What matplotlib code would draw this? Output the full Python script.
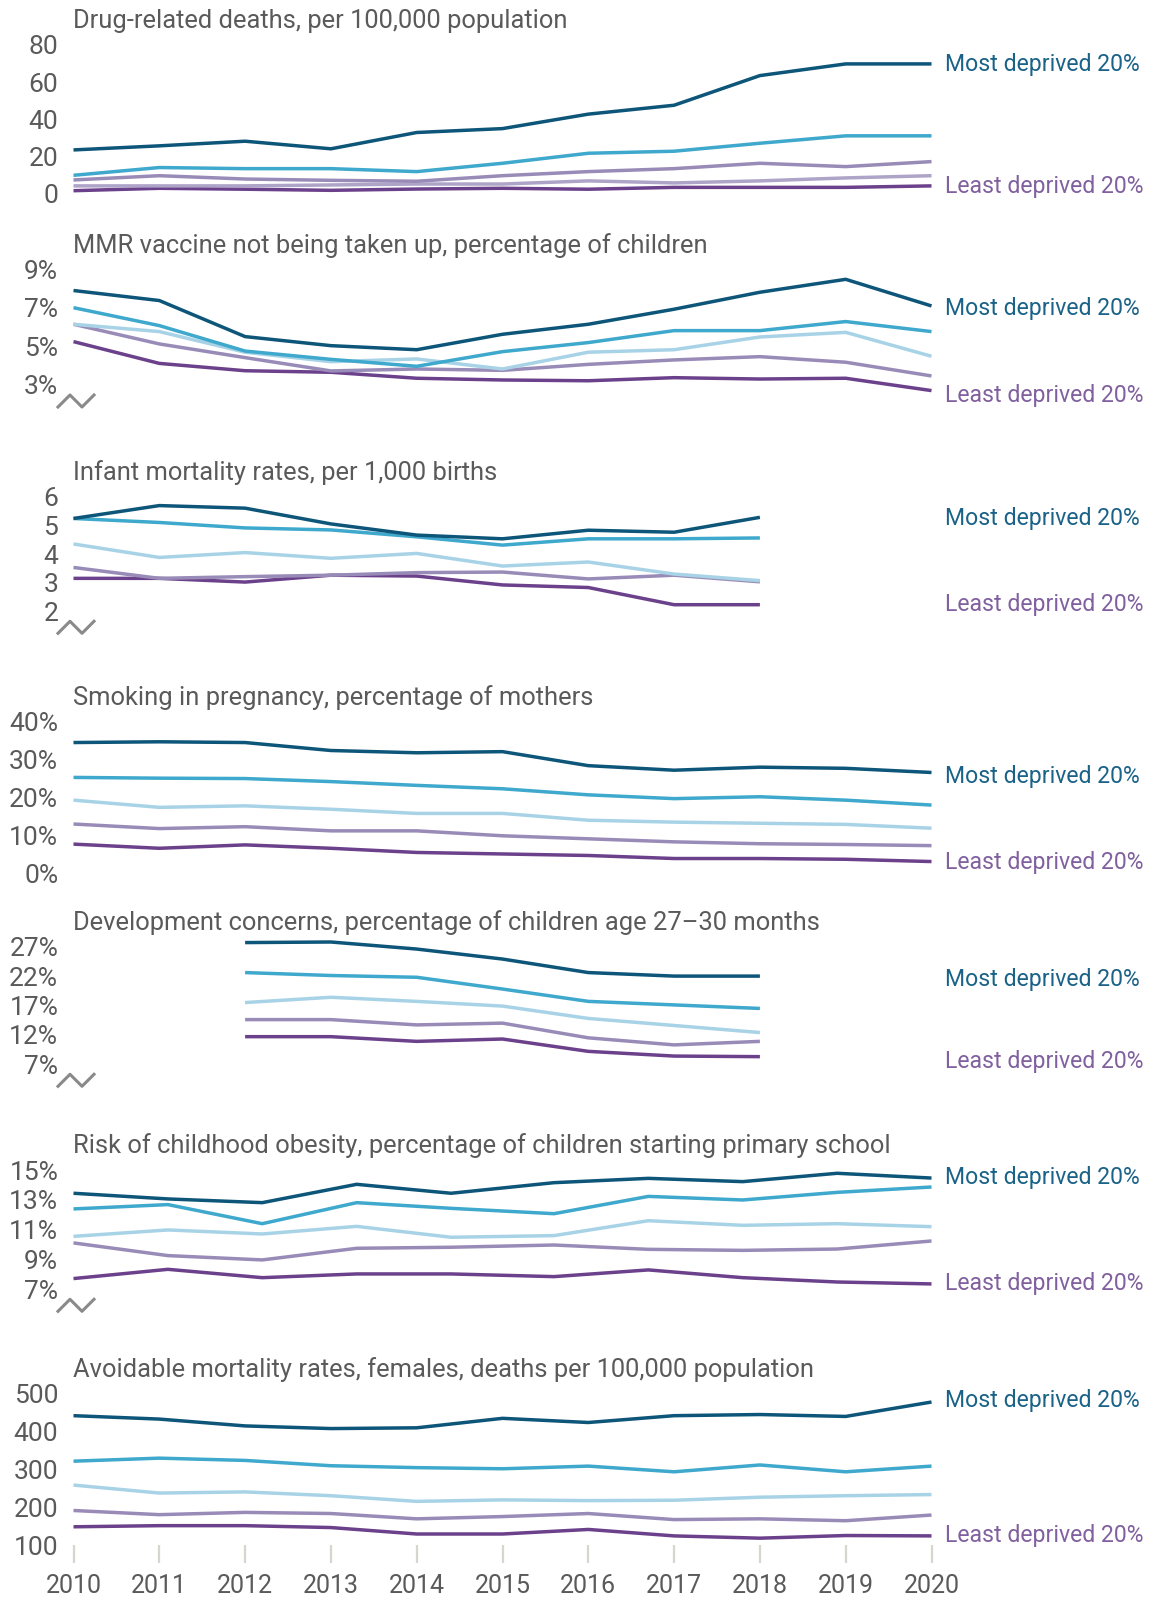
import matplotlib
matplotlib.use('Agg')
import matplotlib.pyplot as plt
from matplotlib.lines import Line2D

# figure size in pixels
W, H = 1155, 1601

years = list(range(2010, 2021))
years_infant = list(range(2010, 2019))
years_dev = list(range(2012, 2019))
years_obesity = [2010.0, 2011.1, 2012.2, 2013.3, 2014.4, 2015.6, 2016.7, 2017.8, 2018.9, 2020.0]

# Drug-related deaths, per 100,000
drug_most = [23.4, 25.6, 28.1, 24.0, 32.8, 34.9, 42.7, 47.5, 63.5, 69.8, 69.8]
drug_q2 = [9.7, 13.9, 13.3, 13.3, 11.7, 16.2, 21.6, 22.7, 27.0, 31.0, 31.0]
drug_q3 = [7.2, 9.5, 7.7, 7.0, 6.5, 9.5, 11.7, 13.3, 16.2, 14.4, 17.1]
drug_q4 = [4.0, 4.0, 4.0, 4.5, 5.0, 5.0, 6.7, 5.6, 6.7, 8.3, 9.5]
drug_least = [1.4, 2.7, 2.2, 1.6, 2.3, 2.7, 2.2, 3.2, 3.2, 3.2, 4.0]

# MMR vaccine not taken up, %
mmr_most = [7.90, 7.38, 5.51, 5.04, 4.83, 5.63, 6.15, 6.93, 7.81, 8.48, 7.10]
mmr_q2 = [7.01, 6.08, 4.76, 4.33, 3.97, 4.73, 5.20, 5.82, 5.82, 6.29, 5.77]
mmr_q3 = [6.15, 5.77, 4.70, 4.21, 4.35, 3.83, 4.70, 4.83, 5.49, 5.73, 4.49]
mmr_q4 = [6.15, 5.13, 4.42, 3.73, 3.83, 3.76, 4.07, 4.30, 4.47, 4.18, 3.47]
mmr_least = [5.25, 4.12, 3.74, 3.66, 3.35, 3.26, 3.22, 3.38, 3.31, 3.35, 2.71]

# Infant mortality, per 1,000 births
inf_most = [5.24, 5.69, 5.60, 5.05, 4.66, 4.53, 4.83, 4.76, 5.28]
inf_q2 = [5.24, 5.10, 4.91, 4.84, 4.60, 4.31, 4.53, 4.53, 4.56]
inf_q3 = [4.35, 3.88, 4.05, 3.85, 4.02, 3.58, 3.72, 3.30, 3.07]
inf_q4 = [3.53, 3.15, 3.21, 3.26, 3.35, 3.37, 3.13, 3.26, 3.03]
inf_least = [3.15, 3.15, 3.02, 3.26, 3.23, 2.92, 2.83, 2.23, 2.23]

# Smoking in pregnancy, %
smk_most = [34.5, 34.7, 34.5, 32.4, 31.8, 32.1, 28.4, 27.2, 28.0, 27.7, 26.6]
smk_q2 = [25.3, 25.1, 25.0, 24.2, 23.2, 22.3, 20.7, 19.7, 20.2, 19.3, 18.0]
smk_q3 = [19.3, 17.4, 17.8, 16.9, 15.8, 15.8, 14.0, 13.5, 13.2, 12.9, 11.9]
smk_q4 = [13.0, 11.8, 12.3, 11.2, 11.2, 9.9, 9.1, 8.3, 7.8, 7.6, 7.3]
smk_least = [7.7, 6.6, 7.5, 6.6, 5.5, 5.1, 4.7, 3.9, 3.9, 3.7, 3.1]

# Development concerns, %
dev_most = [27.7, 27.8, 26.6, 24.9, 22.6, 22.0, 22.0]
dev_q2 = [22.6, 22.1, 21.8, 19.8, 17.7, 17.1, 16.5]
dev_q3 = [17.5, 18.4, 17.7, 16.9, 14.8, 13.6, 12.4]
dev_q4 = [14.6, 14.6, 13.7, 14.0, 11.5, 10.3, 10.9]
dev_least = [11.7, 11.7, 10.9, 11.3, 9.2, 8.4, 8.3]

# Risk of childhood obesity, %
obs_most = [13.44, 13.06, 12.81, 14.04, 13.44, 14.15, 14.44, 14.22, 14.78, 14.46]
obs_q2 = [12.39, 12.68, 11.40, 12.81, 12.43, 12.07, 13.23, 12.99, 13.50, 13.86]
obs_q3 = [10.55, 10.98, 10.71, 11.22, 10.49, 10.60, 11.60, 11.29, 11.40, 11.20]
obs_q4 = [10.11, 9.26, 8.97, 9.75, 9.82, 9.97, 9.68, 9.61, 9.70, 10.24]
obs_least = [7.72, 8.34, 7.78, 8.03, 8.03, 7.85, 8.30, 7.78, 7.49, 7.36]

# Avoidable mortality, females, per 100,000
avm_most = [441, 432, 414, 407, 409, 434, 423, 441, 444, 439, 477]
avm_q2 = [321, 329, 323, 309, 304, 301, 308, 293, 311, 293, 308]
avm_q3 = [258, 237, 240, 230, 215, 219, 217, 218, 226, 230, 233]
avm_q4 = [191, 180, 186, 183, 169, 175, 183, 167, 169, 164, 179]
avm_least = [148, 151, 151, 146, 129, 129, 141, 124, 118, 125, 124]

# colours, most deprived -> least deprived
colors = ['#0d5679', '#3fa8cd', '#a8d3e7', '#998bb7', '#6c418b']
drug_colors = ['#0d5679', '#3fa8cd', '#998bb7', '#aea4c7', '#6c418b']
most_col = '#1a6287'
least_col = '#80609e'
text_col = '#5a5a5a'

panels = [
    dict(title='Drug-related deaths, per 100,000 population', x=years,
         series=[drug_most, drug_q2, drug_q3, drug_q4, drug_least], colors=drug_colors,
         ticks=[0, 20, 40, 60, 80], fmt='{}', top=45, bottom=193.3,
         brk=False, lab=(69.7, 3.9)),
    dict(title='MMR vaccine not being taken up, percentage of children', x=years,
         series=[mmr_most, mmr_q2, mmr_q3, mmr_q4, mmr_least], colors=colors,
         ticks=[3, 5, 7, 9], fmt='{}%', top=269.3, bottom=385,
         brk=True, lab=(6.98, 2.48)),
    dict(title='Infant mortality rates, per 1,000 births', x=years_infant,
         series=[inf_most, inf_q2, inf_q3, inf_q4, inf_least], colors=colors,
         ticks=[2, 3, 4, 5, 6], fmt='{}', top=496.7, bottom=611.3,
         brk=True, lab=(5.25, 2.22)),
    dict(title='Smoking in pregnancy, percentage of mothers', x=years,
         series=[smk_most, smk_q2, smk_q3, smk_q4, smk_least], colors=colors,
         ticks=[0, 10, 20, 30, 40], fmt='{}%', top=721.7, bottom=873.3,
         brk=False, lab=(25.5, 2.8)),
    dict(title='Development concerns, percentage of children age 27\u201330 months', x=years_dev,
         series=[dev_most, dev_q2, dev_q3, dev_q4, dev_least], colors=colors,
         ticks=[7, 12, 17, 22, 27], fmt='{}%', top=946.7, bottom=1064.3,
         brk=True, lab=(21.34, 7.44)),
    dict(title='Risk of childhood obesity, percentage of children starting primary school', x=years_obesity,
         series=[obs_most, obs_q2, obs_q3, obs_q4, obs_least], colors=colors,
         ticks=[7, 9, 11, 13, 15], fmt='{}%', top=1170, bottom=1289.3,
         brk=True, lab=(14.48, 7.36)),
    dict(title='Avoidable mortality rates, females, deaths per 100,000 population', x=years,
         series=[avm_most, avm_q2, avm_q3, avm_q4, avm_least], colors=colors,
         ticks=[100, 200, 300, 400, 500], fmt='{}', top=1393.3, bottom=1545,
         brk=False, lab=(482, 126)),
]

plt.rcParams['font.family'] = ['Roboto', 'DejaVu Sans']
FS = 16.6     # right-hand labels
FS_T = 18.4   # panel titles
FS_TK = 19    # y tick labels
FS_X = 18     # year labels

fig = plt.figure(figsize=(W / 100, H / 100), dpi=100)
fig.patch.set_facecolor('white')

x_left, x_right = 73.5, 931.5

for i, p in enumerate(panels):
    ax = fig.add_axes([x_left / W, 1 - p['bottom'] / H,
                       (x_right - x_left) / W, (p['bottom'] - p['top']) / H])
    # least deprived drawn first so the most deprived sits on top
    for s, c in reversed(list(zip(p['series'], p['colors']))):
        ax.plot(p['x'], s, color=c, lw=2.5, clip_on=False, solid_capstyle='butt',
                solid_joinstyle='round')
    ax.set_xlim(2010, 2020)
    ax.set_ylim(p['ticks'][0], p['ticks'][-1])
    ax.set_yticks(p['ticks'])
    ax.set_yticklabels([p['fmt'].format(t) for t in p['ticks']])
    ax.tick_params(axis='y', length=0, pad=11, labelsize=FS_TK, labelcolor=text_col)
    for sp in ax.spines.values():
        sp.set_visible(False)
    ax.patch.set_alpha(0)

    if i == len(panels) - 1:
        ax.set_xticks(years)
        ax.set_xticklabels([str(y) for y in years])
        ax.tick_params(axis='x', direction='out', length=13, width=1.6,
                       color='#d8d5ce', pad=8, labelsize=FS_X, labelcolor=text_col)
    else:
        ax.set_xticks([])

    # panel title
    fig.text(x_left / W, 1 - (p['top'] - 24) / H, p['title'], fontsize=FS_T,
             color=text_col, ha='left', va='center')

    # right-hand labels
    tr = ax.get_yaxis_transform()
    lx = (945 - x_left) / (x_right - x_left)
    ax.text(lx, p['lab'][0], 'Most deprived 20%', transform=tr, fontsize=FS,
            color=most_col, ha='left', va='center', clip_on=False)
    ax.text(lx, p['lab'][1], 'Least deprived 20%', transform=tr, fontsize=FS,
            color=least_col, ha='left', va='center', clip_on=False)

    # axis break mark
    if p['brk']:
        bx = [x_left - 15.5, x_left - 3.5, x_left + 8.5, x_left + 20.5]
        by = [p['bottom'] + 22, p['bottom'] + 10, p['bottom'] + 22, p['bottom'] + 10]
        fig.add_artist(Line2D([v / W for v in bx], [1 - v / H for v in by],
                              transform=fig.transFigure, color='#8a8a8a', lw=2.2))

fig.savefig('out.png', dpi=100, facecolor='white')
